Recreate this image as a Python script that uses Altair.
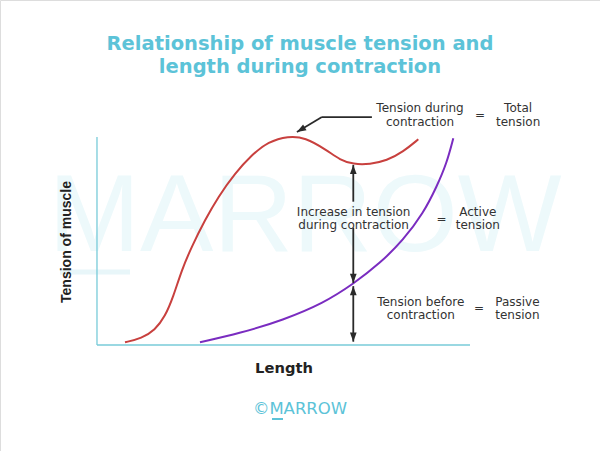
import altair as alt
import pandas as pd

# ---- data (length units 0-100, tension units 0-100) ----
total_len = [7.51, 11.98, 15.55, 18.23, 20.46, 22.71, 25.39, 28.95, 32.52, 37.0, 41.47, 45.92,
             51.29, 55.76, 61.58, 65.15, 68.71, 73.19, 77.67, 82.12, 86.14]
total_ten = [1.30, 3.22, 7.21, 13.61, 23.22, 36.06, 47.26, 60.10, 71.30, 82.55, 91.35, 97.74,
             100.48, 99.86, 93.75, 88.94, 86.88, 86.88, 88.61, 92.93, 98.89]

passive_len = [27.61, 38.34, 49.95, 60.67, 68.71, 75.87, 82.12, 87.48, 91.07, 93.75, 95.52]
passive_ten = [1.30, 5.63, 12.02, 20.05, 29.33, 39.28, 50.48, 63.32, 76.11, 87.36, 99.38]

ann_text = ["Tension during", "contraction", "=", "Total", "tension",
            "Increase in tension", "during contraction", "=", "Active", "tension",
            "Tension before", "contraction", "=", "Passive", "tension"]
ann_x = [86.6, 86.6, 102.7, 112.9, 112.9,
         68.8, 68.8, 92.4, 102.1, 102.1,
         86.8, 86.8, 102.4, 112.7, 112.7]
ann_y = [113.8, 107.4, 110.6, 113.8, 107.4,
         64.1, 57.7, 60.6, 64.1, 57.7,
         20.8, 14.4, 17.8, 20.8, 14.4]

seg_x = [68.71, 68.71, 68.71, 73.7, 60.3]
seg_y = [86.6, 56.4, 28.3, 109.6, 109.6]
seg_x2 = [68.71, 68.71, 68.71, 60.3, 53.6]
seg_y2 = [68.9, 29.8, 1.6, 109.6, 102.4]

head_x = [68.71, 68.71, 68.71, 68.71, 53.6]
head_y = [86.6, 29.8, 28.3, 1.6, 102.4]
head_angle = [0, 180, 0, 180, 239]

XDOM = [-26.0, 134.85]
YDOM = [-50.96, 165.87]
xs = alt.Scale(domain=XDOM, nice=False, zero=False)
ys = alt.Scale(domain=YDOM, nice=False, zero=False)

CYAN = "#5cc3d8"
TXT = "#333333"
FONT = "DejaVu Sans"

curves = pd.concat([
    pd.DataFrame({"len": total_len, "ten": total_ten, "s": "total"}),
    pd.DataFrame({"len": passive_len, "ten": passive_ten, "s": "passive"}),
])

lines = alt.Chart(curves).mark_line(interpolate="basis", strokeWidth=2).encode(
    x=alt.X("len:Q", scale=xs, axis=None),
    y=alt.Y("ten:Q", scale=ys, axis=None),
    color=alt.Color("s:N", scale=alt.Scale(domain=["total", "passive"], range=["#c8403e", "#7a2cc0"]), legend=None),
)

axes_df = pd.DataFrame({"x": [0, 0], "y": [0, 0], "x2": [0, 100], "y2": [100, 0]})
axes = alt.Chart(axes_df).mark_rule(color="#78cbd9", strokeWidth=1.3).encode(
    x=alt.X("x:Q", scale=xs, axis=None), y=alt.Y("y:Q", scale=ys, axis=None), x2="x2:Q", y2="y2:Q"
)

seg_df = pd.DataFrame({"x": seg_x, "y": seg_y, "x2": seg_x2, "y2": seg_y2})
segs = alt.Chart(seg_df).mark_rule(color="#2a2a2a", strokeWidth=1.8).encode(
    x=alt.X("x:Q", scale=xs, axis=None), y=alt.Y("y:Q", scale=ys, axis=None), x2="x2:Q", y2="y2:Q"
)

head_df = pd.DataFrame({"x": head_x, "y": head_y, "a": head_angle})
heads = alt.Chart(head_df).mark_point(
    shape="M0,0L-0.8,2.2L0.8,2.2Z", filled=True, color="#2a2a2a", size=70, opacity=1
).encode(
    x=alt.X("x:Q", scale=xs, axis=None), y=alt.Y("y:Q", scale=ys, axis=None),
    angle=alt.Angle("a:Q", scale=None),
)

ann_df = pd.DataFrame({"x": ann_x, "y": ann_y, "t": ann_text})
ann = alt.Chart(ann_df).mark_text(
    font=FONT, fontSize=12, color=TXT, align="center", baseline="middle"
).encode(x=alt.X("x:Q", scale=xs, axis=None), y=alt.Y("y:Q", scale=ys, axis=None), text="t:N")

# page texts (pixel positions)
def ptext(txt, px, py, **kw):
    df = pd.DataFrame({"px": [px], "py": [py], "t": [txt]})
    return alt.Chart(df).mark_text(**kw).encode(
        x=alt.X("px:Q", scale=None), y=alt.Y("py:Q", scale=None), text="t:N"
    )

def prule(px, py, px2, py2, **kw):
    df = pd.DataFrame({"px": [px], "py": [py], "px2": [px2], "py2": [py2]})
    return alt.Chart(df).mark_rule(**kw).encode(
        x=alt.X("px:Q", scale=None), y=alt.Y("py:Q", scale=None), x2="px2:Q", y2="py2:Q"
    )

wm = ptext("MARROW", 305, 251, font="Liberation Sans", fontSize=110, color="#edf9fb",
           align="center", baseline="alphabetic")
wm_bar = prule(60, 272, 130, 272, color="#e8f6f9", strokeWidth=5)

t1 = ptext("Relationship of muscle tension and", 300, 44, font=FONT, fontSize=19.5,
           fontWeight="bold", color=CYAN, align="center", baseline="middle")
t2 = ptext("length during contraction", 300, 67, font=FONT, fontSize=19.5,
           fontWeight="bold", color=CYAN, align="center", baseline="middle")
xl = ptext("Length", 284, 369, font=FONT, fontSize=14.7, fontWeight="bold",
           color="#222222", align="center", baseline="middle")
yl = ptext("Tension of muscle", 67, 242, font="Liberation Sans", fontSize=14, fontWeight="bold",
           color="#222222", align="center", baseline="middle", angle=270)
cp = ptext("©MARROW", 300, 409, font=FONT, fontSize=16.5, color=CYAN,
           align="center", baseline="middle")
cp_bar = prule(272, 419, 283, 419, color=CYAN, strokeWidth=2)

chart = alt.layer(
    wm, wm_bar, axes, lines, segs, heads, ann, t1, t2, xl, yl, cp, cp_bar
).properties(
    width=600, height=451, padding=0, autosize=alt.AutoSizeParams(type="none")
).configure_view(stroke=None).configure(background="white")

chart.save("out.html", embed_options={"renderer": "svg", "actions": False})
